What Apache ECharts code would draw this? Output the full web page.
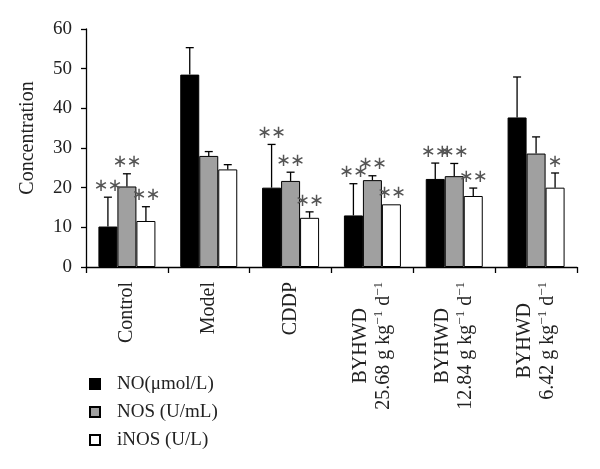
<!DOCTYPE html>
<html>
<head>
<meta charset="utf-8">
<script src="https://cdn.jsdelivr.net/npm/echarts@6/dist/echarts.min.js"></script>
<style>html,body{margin:0;padding:0;background:#fff}#c{width:600px;height:469px}</style>
</head>
<body>
<div id="c"></div>
<script>
// ---- data ----
var groupNames = ['Control', 'Model', 'CDDP', 'BYHWD', 'BYHWD', 'BYHWD'];
var doses = ['', '', '', '25.68', '12.84', '6.42'];
var seriesNames = ['NO(\u03bcmol/L)', 'NOS (U/mL)', 'iNOS (U/L)'];
var noVals = [10.2, 48.5, 20.0, 13.0, 22.2, 37.7];
var noSd = [7.4, 6.8, 10.9, 8.0, 4.0, 10.2];
var nosVals = [20.3, 28.0, 21.7, 21.9, 22.9, 28.6];
var nosSd = [3.2, 1.1, 2.2, 1.1, 3.2, 4.2];
var inosVals = [11.6, 24.6, 12.4, 15.8, 17.9, 20.0];
var inosSd = [3.6, 1.2, 1.5, 0, 2.0, 3.7];
var noStars = ['**', '', '**', '**', '**', ''];
var nosStars = ['**', '', '**', '**', '**', ''];
var inosStars = ['**', '', '**', '**', '**', '*'];
var yTicks = [0, 10, 20, 30, 40, 50, 60];

var categories = groupNames.map(function (g, i) { return i; });
var SERIF = '"Liberation Serif", "Times New Roman", serif';
var BW = 19;
var colors = ['#000000', '#a0a0a0', '#ffffff'];

function errSeries(name, vals, sds, stars, idx) {
  return {
    type: 'custom',
    name: name + ' err',
    z: 5,
    data: vals.map(function (v, i) { return [i, v, v + sds[i], stars[i]]; }),
    renderItem: function (params, api) {
      var ci = api.value(0);
      var base = api.coord([ci, api.value(1)]);
      var top = api.coord([ci, api.value(2)]);
      var x = base[0] + (idx - 1) * BW;
      var children = [];
      if (top[1] < base[1] - 0.5) {
        children.push({ type: 'line', shape: { x1: x, y1: base[1], x2: x, y2: top[1] }, style: { stroke: '#000', lineWidth: 1.3 } });
        children.push({ type: 'line', shape: { x1: x - 4, y1: top[1], x2: x + 4, y2: top[1] }, style: { stroke: '#000', lineWidth: 1.3 } });
      }
      var s = stars[ci];
      var n = s.length;
      for (var k = 0; k < n; k++) {
        children.push({
          type: 'text',
          style: {
            text: '\u2217',
            x: x + (k - (n - 1) / 2) * 14, y: top[1] - 11,
            align: 'center', verticalAlign: 'middle',
            font: '18px "DejaVu Sans"', fill: '#555'
          }
        });
      }
      return { type: 'group', children: children };
    }
  };
}

function barSeries(name, vals, idx) {
  return {
    type: 'bar', name: name, data: vals, barWidth: BW, barGap: '0%',
    itemStyle: { color: colors[idx], borderColor: '#000', borderWidth: 1 }
  };
}

var chart = echarts.init(document.getElementById('c'), null, { renderer: 'canvas' });
chart.setOption({
  animation: false,
  backgroundColor: '#fff',
  grid: { left: 86, right: 23, top: 29, bottom: 202, containLabel: false },
  legend: {
    data: seriesNames,
    orient: 'vertical', left: 84, top: 369,
    icon: 'rect', itemWidth: 10, itemHeight: 10, itemGap: 8,
    textStyle: { fontFamily: SERIF, fontSize: 19, color: '#222', padding: [0, 0, 0, 12], lineHeight: 20 }
  },
  xAxis: {
    type: 'category', data: categories,
    axisLine: { lineStyle: { color: '#000', width: 1.3 } },
    axisTick: { show: true, length: 6, lineStyle: { color: '#000', width: 1.3 } },
    axisLabel: {
      interval: 0, rotate: 90, margin: 15, color: '#222',
      fontFamily: SERIF, fontSize: 20, lineHeight: 23,
      formatter: function (v) {
        var i = +v;
        if (!doses[i]) return '{a|' + groupNames[i] + '}';
        return '{a|' + groupNames[i] + '}\n{a|' + doses[i] + ' g kg}{s|\u22121}{a| d}{s|\u22121}';
      },
      rich: {
        a: { align: 'center', fontFamily: SERIF, fontSize: 20, color: '#222', lineHeight: 23 },
        s: { align: 'center', fontFamily: SERIF, fontSize: 13, color: '#222', verticalAlign: 'top', lineHeight: 23 }
      }
    }
  },
  yAxis: {
    type: 'value', min: 0, max: 60, interval: 10,
    name: 'Concentration', nameLocation: 'middle', nameGap: 48, nameRotate: 90,
    nameTextStyle: { fontFamily: SERIF, fontSize: 20, color: '#222', padding: [0, 0, 0, 20] },
    axisLine: { show: true, lineStyle: { color: '#000', width: 1.3 } },
    axisTick: { show: true, length: 5, lineStyle: { color: '#000', width: 1.3 } },
    splitLine: { show: false },
    axisLabel: {
      margin: 14, color: '#222', fontFamily: SERIF, fontSize: 19,
      formatter: function (v) { return yTicks.indexOf(v) >= 0 ? String(v) : ''; }
    }
  },
  series: [
    barSeries(seriesNames[0], noVals, 0),
    barSeries(seriesNames[1], nosVals, 1),
    barSeries(seriesNames[2], inosVals, 2),
    errSeries(seriesNames[0], noVals, noSd, noStars, 0),
    errSeries(seriesNames[1], nosVals, nosSd, nosStars, 1),
    errSeries(seriesNames[2], inosVals, inosSd, inosStars, 2)
  ]
});
</script>
</body>
</html>
